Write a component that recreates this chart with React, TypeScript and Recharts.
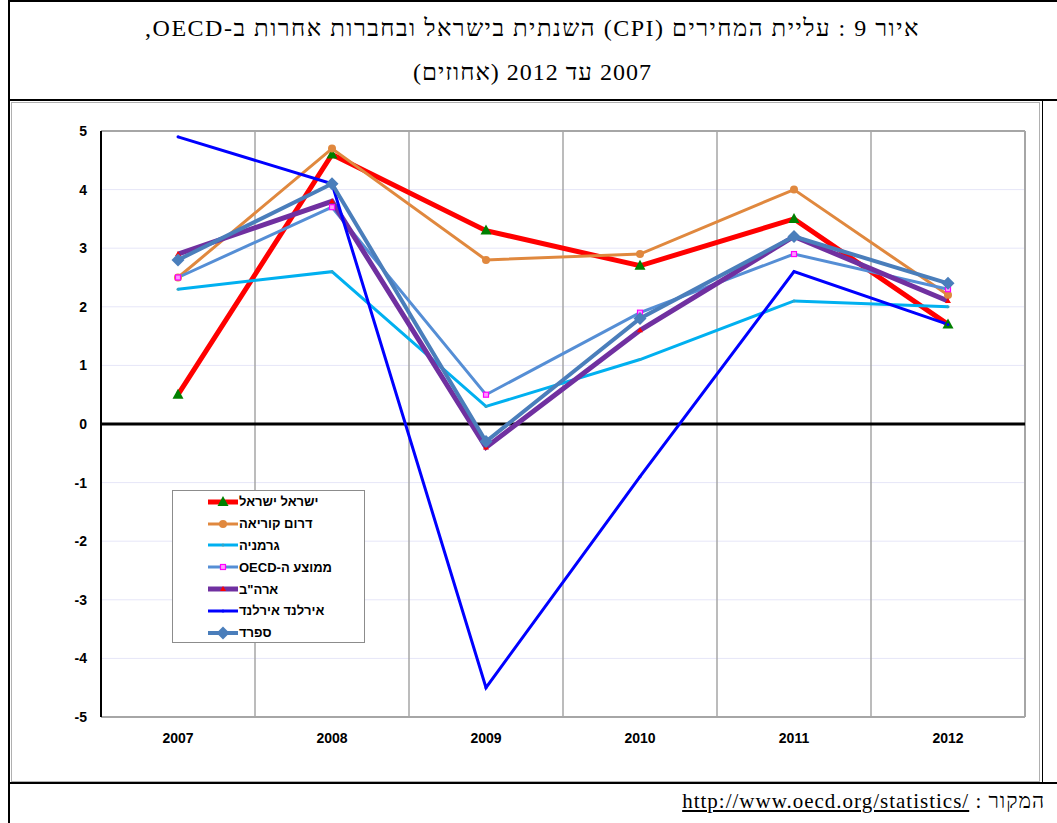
import React from "react";
import { CartesianGrid, Line, LineChart, ReferenceLine, XAxis, YAxis } from "recharts";

const years = ["2007", "2008", "2009", "2010", "2011", "2012"];
const yTicks = [-5, -4, -3, -2, -1, 0, 1, 2, 3, 4, 5];
const categoryEdges = [0.5, 1.5, 2.5, 3.5, 4.5];

const israel = [0.5, 4.6, 3.3, 2.7, 3.5, 1.7];
const korea = [2.5, 4.7, 2.8, 2.9, 4.0, 2.2];
const germany = [2.3, 2.6, 0.3, 1.1, 2.1, 2.0];
const oecd = [2.5, 3.7, 0.5, 1.9, 2.9, 2.3];
const usa = [2.9, 3.8, -0.4, 1.6, 3.2, 2.1];
const ireland = [4.9, 4.1, -4.5, -0.9, 2.6, 1.7];
const spain = [2.8, 4.1, -0.3, 1.8, 3.2, 2.4];

const seriesNames = ["ישראל ישראל", "דרום קוריאה", "גרמניה", "ממוצע ה-OECD", "ארה\"ב", "אירלנד אירלנד", "ספרד"];

const data = years.map((year, i) => ({
  x: i,
  year,
  israel: israel[i],
  korea: korea[i],
  germany: germany[i],
  oecd: oecd[i],
  usa: usa[i],
  ireland: ireland[i],
  spain: spain[i],
}));

type Marker = "triangle" | "circle" | "dot" | "square" | "smallTriangle" | "none" | "diamond";

const SERIES: { key: string; name: string; color: string; width: number; marker: Marker; markerColor: string }[] = [
  { key: "israel", name: seriesNames[0], color: "#FF0000", width: 5, marker: "triangle", markerColor: "#008000" },
  { key: "korea", name: seriesNames[1], color: "#E0883E", width: 3, marker: "circle", markerColor: "#E0883E" },
  { key: "germany", name: seriesNames[2], color: "#00B0F0", width: 3, marker: "dot", markerColor: "#31A5C8" },
  { key: "oecd", name: seriesNames[3], color: "#558ED5", width: 3, marker: "square", markerColor: "#FF00FF" },
  { key: "usa", name: seriesNames[4], color: "#7030A0", width: 5, marker: "smallTriangle", markerColor: "#FF0000" },
  { key: "ireland", name: seriesNames[5], color: "#0000FF", width: 3, marker: "dot", markerColor: "#0000FF" },
  { key: "spain", name: seriesNames[6], color: "#4A7EBB", width: 4, marker: "diamond", markerColor: "#4A7EBB" },
];

function markerShape(marker: Marker, color: string, cx: number, cy: number, key?: string) {
  switch (marker) {
    case "triangle":
      return <path key={key} d={`M${cx},${cy - 6} L${cx + 5.5},${cy + 4} L${cx - 5.5},${cy + 4} Z`} fill={color} />;
    case "circle":
      return <circle key={key} cx={cx} cy={cy} r={4} fill={color} />;
    case "dot":
      return <circle key={key} cx={cx} cy={cy} r={1.5} fill={color} />;
    case "square":
      return <rect key={key} x={cx - 2.5} y={cy - 2.5} width={5} height={5} fill="#FF99FF" stroke={color} strokeWidth={1.2} />;
    case "smallTriangle":
      return <path key={key} d={`M${cx},${cy - 3} L${cx + 3},${cy + 2} L${cx - 3},${cy + 2} Z`} fill={color} />;
    case "diamond":
      return <path key={key} d={`M${cx},${cy - 6.5} L${cx + 6.5},${cy} L${cx},${cy + 6.5} L${cx - 6.5},${cy} Z`} fill={color} />;
    default:
      return <g key={key} />;
  }
}

function LegendBox() {
  return (
    <div
      style={{
        position: "absolute",
        left: 164,
        top: 490,
        width: 193,
        height: 153,
        boxSizing: "border-box",
        border: "1px solid #8C8C8C",
        background: "#fff",
      }}
    >
      {SERIES.map((s) => (
        <div key={s.key} style={{ display: "flex", alignItems: "center", height: 21.8 }}>
          <svg width={66} height={14} style={{ flex: "none" }}>
            <line x1={35} x2={65} y1={7} y2={7} stroke={s.color} strokeWidth={s.width} />
            {markerShape(s.marker, s.markerColor, 50, 7)}
          </svg>
          <span
            style={{
              direction: "rtl",
              fontFamily: "'Liberation Sans', Arial, sans-serif",
              fontWeight: "bold",
              fontSize: 13,
              color: "#000",
              whiteSpace: "nowrap",
            }}
          >
            {s.name}
          </span>
        </div>
      ))}
    </div>
  );
}

const serif = "'Liberation Serif', 'Times New Roman', serif";
const sans = "'Liberation Sans', Arial, sans-serif";

export default function App() {
  return (
    <div style={{ position: "absolute", left: 8, top: 0, width: 1049, height: 823, background: "#fff" }}>
      <div style={{ position: "absolute", left: 0, top: 0, width: 2, height: 823, background: "#000" }} />
      <div style={{ position: "absolute", left: 0, top: 0, width: 1049, height: 2, background: "#000" }} />
      <div
        style={{
          position: "absolute",
          left: 0,
          top: 13,
          width: 1049,
          textAlign: "center",
          direction: "rtl",
          fontFamily: serif,
          fontSize: 24,
          letterSpacing: 1.5,
          lineHeight: "30px",
        }}
      >
        איור 9 : עליית המחירים (CPI) השנתית בישראל ובחברות אחרות ב-OECD,
      </div>
      <div
        style={{
          position: "absolute",
          left: 0,
          top: 57,
          width: 1049,
          textAlign: "center",
          direction: "rtl",
          fontFamily: serif,
          fontSize: 24,
          letterSpacing: 1,
          lineHeight: "30px",
        }}
      >
        2007 עד 2012 (אחוזים)
      </div>
      <div style={{ position: "absolute", left: 0, top: 99, width: 1049, height: 2, background: "#000" }} />
      <div style={{ position: "absolute", left: 1034, top: 100, width: 1, height: 683, background: "#000" }} />
      <div style={{ position: "absolute", left: 3, top: 102, width: 1029, height: 680, border: "1px solid #B0B0B0", boxSizing: "border-box" }} />

      <div style={{ position: "absolute", left: 0, top: 100 }}>
        <LineChart width={1049} height={683} data={data} margin={{ top: 31, right: 32, bottom: 36, left: 0 }}>
          <CartesianGrid vertical={false} stroke="#E6E6F8" strokeWidth={1} />
          <XAxis
            dataKey="x"
            type="number"
            domain={[-0.5, 5.5]}
            ticks={[0, 1, 2, 3, 4, 5]}
            tickFormatter={(v: number) => years[v]}
            axisLine={{ stroke: "#A6A6A6", strokeWidth: 2 }}
            tickLine={false}
            tickMargin={10}
            tick={{ fontFamily: sans, fontWeight: "bold", fontSize: 14, fill: "#000" }}
            interval={0}
          />
          <YAxis
            domain={[-5, 5]}
            ticks={yTicks}
            width={93}
            axisLine={{ stroke: "#000", strokeWidth: 2 }}
            tickLine={false}
            tickMargin={8}
            tick={{ fontFamily: sans, fontWeight: "bold", fontSize: 14, fill: "#000" }}
            interval={0}
          />
          {categoryEdges.map((e) => (
            <ReferenceLine key={e} x={e} stroke="#A6A6A6" strokeWidth={1.5} />
          ))}
          <ReferenceLine x={5.5} stroke="#A6A6A6" strokeWidth={2} />
          <ReferenceLine y={5} stroke="#A6A6A6" strokeWidth={2} />
          <ReferenceLine y={0} stroke="#000" strokeWidth={3} />
          {SERIES.map((s) => (
            <Line
              key={s.key}
              dataKey={s.key}
              name={s.name}
              type="linear"
              stroke={s.color}
              strokeWidth={s.width}
              isAnimationActive={false}
              dot={(p: any) => markerShape(s.marker, s.markerColor, p.cx, p.cy, `${s.key}-${p.index}`)}
              activeDot={false}
            />
          ))}
        </LineChart>
      </div>

      <LegendBox />

      <div style={{ position: "absolute", left: 0, top: 782, width: 1049, height: 2, background: "#000" }} />
      <div
        style={{
          position: "absolute",
          right: 12,
          top: 788,
          direction: "rtl",
          fontFamily: serif,
          fontSize: 21,
          letterSpacing: 1,
          lineHeight: "26px",
          whiteSpace: "nowrap",
        }}
      >
        המקור :{" "}
        <span dir="ltr" style={{ textDecoration: "underline", unicodeBidi: "isolate" }}>
          http://www.oecd.org/statistics/
        </span>
      </div>
    </div>
  );
}
